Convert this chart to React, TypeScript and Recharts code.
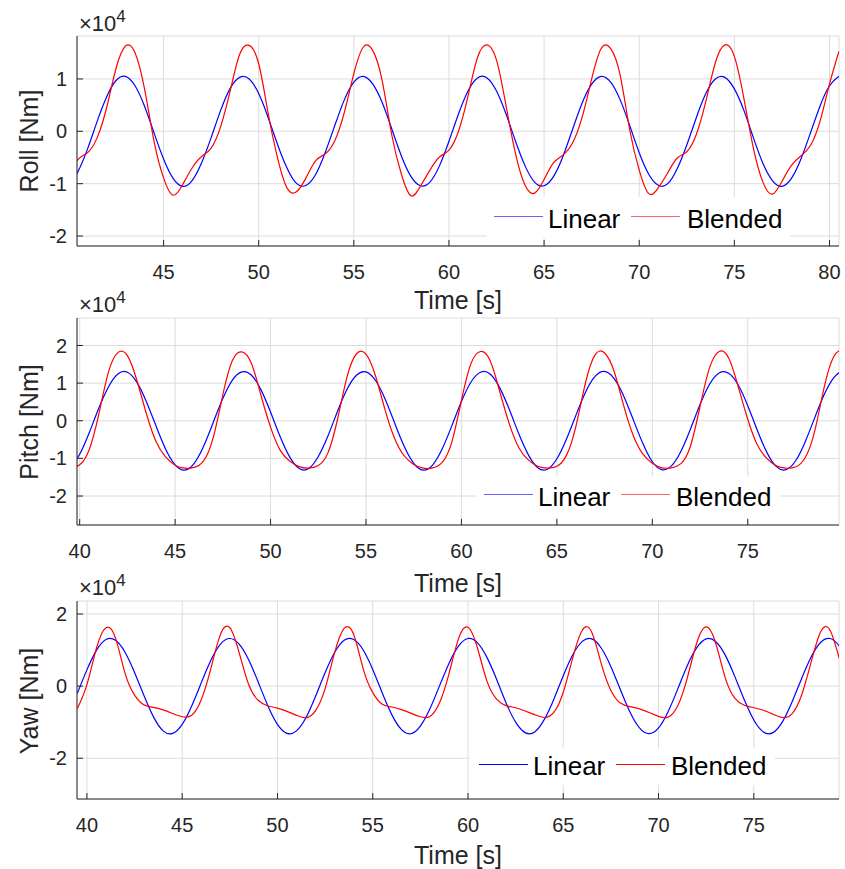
import React from 'react';
import { LineChart, Line, XAxis, YAxis, CartesianGrid } from 'recharts';

// time in seconds
const time = [39.5, 40, 40.5, 41, 41.5, 42, 42.5, 43, 43.5, 44, 44.5, 45, 45.5, 46, 46.5, 47, 47.5, 48, 48.5, 49, 49.5, 50, 50.5, 51, 51.5, 52, 52.5, 53, 53.5, 54, 54.5, 55, 55.5, 56, 56.5, 57, 57.5, 58, 58.5, 59, 59.5, 60, 60.5, 61, 61.5, 62, 62.5, 63, 63.5, 64, 64.5, 65, 65.5, 66, 66.5, 67, 67.5, 68, 68.5, 69, 69.5, 70, 70.5, 71, 71.5, 72, 72.5, 73, 73.5, 74, 74.5, 75, 75.5, 76, 76.5, 77, 77.5, 78, 78.5, 79, 79.5, 80, 80.5];

// moments in units of 1e4 Nm
const rollLinear = [
  -1.02, -1.02, -0.77, -0.34, 0.18, 0.65, 0.97, 1.05, 0.87, 0.48,
  -0.03, -0.53, -0.90, -1.05, -0.94, -0.60, -0.12, 0.40, 0.82, 1.03,
  1.00, 0.72, 0.26, -0.26, -0.71, -1.00, -1.03, -0.82, -0.40, 0.11,
  0.60, 0.94, 1.05, 0.90, 0.54, 0.04, -0.47, -0.86, -1.04, -0.97,
  -0.66, -0.19, 0.33, 0.77, 1.02, 1.02, 0.77, 0.33, -0.19, -0.66,
  -0.97, -1.04, -0.86, -0.47, 0.04, 0.54, 0.90, 1.05, 0.94, 0.60,
  0.11, -0.41, -0.82, -1.03, -1.00, -0.71, -0.26, 0.26, 0.72, 1.00,
  1.03, 0.81, 0.40, -0.12, -0.61, -0.94, -1.05, -0.90, -0.53, -0.03,
  0.48, 0.87, 1.05,
];
const rollBlended = [
  -1.12, -0.84, -0.54, -0.41, -0.13, 0.44, 1.20, 1.63, 1.50, 0.81,
  -0.19, -0.89, -1.22, -1.02, -0.70, -0.48, -0.32, 0.09, 0.77, 1.47,
  1.64, 1.29, 0.34, -0.52, -1.09, -1.15, -0.88, -0.56, -0.43, -0.18,
  0.36, 1.10, 1.61, 1.54, 0.95, -0.08, -0.82, -1.23, -1.05, -0.74,
  -0.49, -0.36, 0.00, 0.67, 1.41, 1.65, 1.36, 0.49, -0.43, -1.03,
  -1.18, -0.92, -0.60, -0.45, -0.22, 0.27, 1.00, 1.58, 1.58, 1.07,
  0.03, -0.74, -1.19, -1.08, -0.79, -0.51, -0.39, -0.06, 0.57, 1.31,
  1.65, 1.43, 0.63, -0.32, -0.97, -1.20, -0.96, -0.65, -0.47, -0.27,
  0.19, 0.90, 1.53,
];
const pitchLinear = [
  -1.24, -0.89, -0.32, 0.33, 0.89, 1.24, 1.29, 1.02, 0.50, -0.14,
  -0.75, -1.17, -1.31, -1.13, -0.67, -0.04, 0.59, 1.08, 1.30, 1.21,
  0.82, 0.23, -0.42, -0.96, -1.27, -1.27, -0.95, -0.41, 0.24, 0.83,
  1.21, 1.30, 1.07, 0.58, -0.06, -0.68, -1.13, -1.31, -1.17, -0.74,
  -0.13, 0.51, 1.03, 1.29, 1.24, 0.88, 0.31, -0.34, -0.90, -1.25,
  -1.29, -1.01, -0.49, 0.15, 0.76, 1.18, 1.31, 1.12, 0.66, 0.03,
  -0.60, -1.09, -1.30, -1.20, -0.81, -0.22, 0.43, 0.97, 1.27, 1.26,
  0.95, 0.40, -0.25, -0.84, -1.22, -1.30, -1.07, -0.57, 0.07, 0.69,
  1.14, 1.31, 1.16,
];
const pitchBlended = [
  -1.26, -1.17, -0.77, 0.17, 1.28, 1.81, 1.73, 1.07, 0.18, -0.55,
  -0.96, -1.18, -1.26, -1.24, -1.06, -0.44, 0.69, 1.60, 1.83, 1.52,
  0.67, -0.17, -0.78, -1.07, -1.22, -1.26, -1.19, -0.86, 0.02, 1.15,
  1.78, 1.77, 1.19, 0.29, -0.47, -0.93, -1.16, -1.26, -1.25, -1.10,
  -0.56, 0.54, 1.52, 1.84, 1.60, 0.79, -0.07, -0.71, -1.04, -1.21,
  -1.26, -1.21, -0.92, -0.14, 1.01, 1.75, 1.80, 1.31, 0.40, -0.39,
  -0.88, -1.13, -1.25, -1.25, -1.14, -0.67, 0.38, 1.41, 1.84, 1.67,
  0.91, 0.04, -0.64, -1.00, -1.20, -1.26, -1.23, -0.99, -0.29, 0.88,
  1.70, 1.82, 1.42,
];
const yawLinear = [
  -0.20, 0.45, 0.99, 1.29, 1.27, 0.94, 0.38, -0.27, -0.86, -1.24,
  -1.31, -1.06, -0.55, 0.09, 0.71, 1.16, 1.32, 1.16, 0.72, 0.10,
  -0.55, -1.06, -1.31, -1.24, -0.87, -0.28, 0.37, 0.93, 1.27, 1.29,
  1.00, 0.46, -0.19, -0.79, -1.20, -1.32, -1.11, -0.63, 0.00, 0.63,
  1.11, 1.32, 1.20, 0.79, 0.19, -0.47, -1.00, -1.29, -1.27, -0.93,
  -0.37, 0.29, 0.87, 1.24, 1.31, 1.05, 0.54, -0.10, -0.72, -1.16,
  -1.32, -1.16, -0.71, -0.09, 0.56, 1.06, 1.31, 1.23, 0.86, 0.27,
  -0.38, -0.94, -1.27, -1.29, -0.99, -0.45, 0.20, 0.80, 1.21, 1.32,
  1.10, 0.62, -0.01,
];
const yawBlended = [
  -0.62, 0.04, 1.05, 1.62, 1.33, 0.36, -0.25, -0.52, -0.59, -0.66,
  -0.76, -0.85, -0.81, -0.38, 0.48, 1.42, 1.62, 0.91, 0.03, -0.40,
  -0.55, -0.61, -0.70, -0.81, -0.88, -0.68, -0.07, 0.93, 1.60, 1.43,
  0.48, -0.18, -0.50, -0.58, -0.65, -0.75, -0.85, -0.84, -0.47, 0.34,
  1.31, 1.63, 1.05, 0.13, -0.36, -0.54, -0.60, -0.69, -0.79, -0.87,
  -0.73, -0.17, 0.79, 1.55, 1.49, 0.61, -0.12, -0.47, -0.57, -0.63,
  -0.73, -0.84, -0.86, -0.55, 0.21, 1.19, 1.64, 1.19, 0.23, -0.33,
  -0.53, -0.60, -0.67, -0.78, -0.87, -0.77, -0.26, 0.65, 1.50, 1.55,
  0.74, -0.05, -0.44,
];

const rollTicksX = [45, 50, 55, 60, 65, 70, 75, 80];
const rollTicksY = [-2, -1, 0, 1];
const pitchTicksX = [40, 45, 50, 55, 60, 65, 70, 75];
const pitchTicksY = [-2, -1, 0, 1, 2];
const yawTicksX = [40, 45, 50, 55, 60, 65, 70, 75];
const yawTicksY = [-2, 0, 2];

const FONT = '"Liberation Sans", Arial, Helvetica, sans-serif';
const AX = '#262626';
const GRID = '#dcdcdc';

type PanelProps = {
  top: number;
  height: number;
  marginTop: number;
  marginBottom: number;
  xDomain: [number, number];
  yDomain: [number, number];
  xTicks: number[];
  yTicks: number[];
  linear: number[];
  blended: number[];
};

function Panel(p: PanelProps) {
  const data = time.map((t, i) => ({ t, linear: p.linear[i], blended: p.blended[i] }));
  const tickStyle = { fill: AX, fontSize: 20, fontFamily: FONT };
  return (
    <div style={{ position: 'absolute', left: 0, top: p.top, width: 845, height: p.height }}>
      <LineChart
        width={845}
        height={p.height}
        data={data}
        margin={{ top: p.marginTop, right: 6, left: 17, bottom: p.marginBottom }}
      >
        <CartesianGrid stroke={GRID} strokeWidth={1} />
        <XAxis
          dataKey="t"
          type="number"
          domain={p.xDomain}
          ticks={p.xTicks}
          allowDataOverflow
          interval={0}
          height={40}
          tickSize={-6}
          tickMargin={25}
          axisLine={{ stroke: AX }}
          tickLine={{ stroke: AX }}
          tick={tickStyle}
        />
        <XAxis
          xAxisId="top"
          orientation="top"
          dataKey="t"
          type="number"
          domain={p.xDomain}
          ticks={p.xTicks}
          allowDataOverflow
          interval={0}
          height={0}
          tickSize={-6}
          tick={false}
          axisLine={{ stroke: AX }}
          tickLine={{ stroke: AX }}
        />
        <YAxis
          type="number"
          domain={p.yDomain}
          ticks={p.yTicks}
          allowDataOverflow
          interval={0}
          width={60}
          tickSize={-6}
          tickMargin={16}
          axisLine={{ stroke: AX }}
          tickLine={{ stroke: AX }}
          tick={tickStyle}
        />
        <YAxis
          yAxisId="right"
          orientation="right"
          type="number"
          domain={p.yDomain}
          ticks={p.yTicks}
          allowDataOverflow
          interval={0}
          width={0}
          tickSize={-6}
          tick={false}
          axisLine={{ stroke: AX }}
          tickLine={{ stroke: AX }}
        />
        <Line
          dataKey="linear"
          type="natural"
          stroke="#0000ff"
          strokeWidth={1.2}
          dot={false}
          isAnimationActive={false}
        />
        <Line
          dataKey="blended"
          type="natural"
          stroke="#ff0000"
          strokeWidth={1.2}
          dot={false}
          isAnimationActive={false}
        />
      </LineChart>
    </div>
  );
}

function Exponent({ left, baseline }: { left: number; baseline: number }) {
  return (
    <div
      style={{
        position: 'absolute',
        left,
        top: baseline - 19,
        fontSize: 22,
        lineHeight: '22px',
        color: AX,
        whiteSpace: 'nowrap',
      }}
    >
      ×10<span style={{ fontSize: 17, position: 'relative', top: -9 }}>4</span>
    </div>
  );
}

function YLabel({ text, cx, cy }: { text: string; cx: number; cy: number }) {
  return (
    <div
      style={{
        position: 'absolute',
        left: cx,
        top: cy,
        fontSize: 25,
        lineHeight: '25px',
        color: AX,
        whiteSpace: 'nowrap',
        transform: 'translate(-50%, -50%) rotate(-90deg)',
      }}
    >
      {text}
    </div>
  );
}

function XLabel({ cx, baseline }: { cx: number; baseline: number }) {
  return (
    <div
      style={{
        position: 'absolute',
        left: cx,
        top: baseline - 21,
        fontSize: 25,
        lineHeight: '25px',
        color: AX,
        whiteSpace: 'nowrap',
        transform: 'translateX(-50%)',
      }}
    >
      Time [s]
    </div>
  );
}

type LegendProps = {
  x: number;
  y: number;
  w: number;
  h: number;
  lineY: number;
  blueX: number;
  redX: number;
  linX: number;
  blendX: number;
  baseline: number;
  blue: string;
  red: string;
};

function LegendBox(l: LegendProps) {
  const txt = (left: number, s: string) => (
    <div
      style={{
        position: 'absolute',
        left: left - l.x,
        top: l.baseline - 22 - l.y,
        fontSize: 26,
        lineHeight: '26px',
        color: '#000',
        whiteSpace: 'nowrap',
      }}
    >
      {s}
    </div>
  );
  const seg = (left: number, color: string) => (
    <div
      style={{
        position: 'absolute',
        left: left - l.x,
        top: l.lineY - l.y - 0.6,
        width: 49,
        height: 0,
        borderTop: `1.3px solid ${color}`,
      }}
    />
  );
  return (
    <div style={{ position: 'absolute', left: l.x, top: l.y, width: l.w, height: l.h, background: '#fff' }}>
      {seg(l.blueX, l.blue)}
      {txt(l.linX, 'Linear')}
      {seg(l.redX, l.red)}
      {txt(l.blendX, 'Blended')}
    </div>
  );
}

export default function App() {
  return (
    <div
      style={{
        position: 'absolute',
        left: 0,
        top: 0,
        width: 845,
        height: 869,
        background: '#fff',
        fontFamily: FONT,
        overflow: 'hidden',
      }}
    >
      <Panel
        top={0}
        height={300}
        marginTop={36}
        marginBottom={14}
        xDomain={[40.45, 80.5]}
        yDomain={[-2.19, 1.82]}
        xTicks={rollTicksX}
        yTicks={rollTicksY}
        linear={rollLinear}
        blended={rollBlended}
      />
      <Panel
        top={280}
        height={300}
        marginTop={38}
        marginBottom={15}
        xDomain={[39.86, 79.78]}
        yDomain={[-2.77, 2.73]}
        xTicks={pitchTicksX}
        yTicks={pitchTicksY}
        linear={pitchLinear}
        blended={pitchBlended}
      />
      <Panel
        top={562}
        height={300}
        marginTop={39}
        marginBottom={23}
        xDomain={[39.48, 79.47]}
        yDomain={[-3.13, 2.36]}
        xTicks={yawTicksX}
        yTicks={yawTicksY}
        linear={yawLinear}
        blended={yawBlended}
      />

      <Exponent left={79} baseline={32} />
      <Exponent left={79} baseline={313} />
      <Exponent left={79} baseline={596} />

      <YLabel text="Roll [Nm]" cx={29} cy={141} />
      <YLabel text="Pitch [Nm]" cx={29} cy={422} />
      <YLabel text="Yaw [Nm]" cx={29} cy={701} />

      <XLabel cx={458} baseline={309} />
      <XLabel cx={458} baseline={592} />
      <XLabel cx={458} baseline={864} />

      <LegendBox x={487} y={197} w={303} h={41} lineY={217} blueX={494} redX={631} linX={548} blendX={687} baseline={228} blue="#6464ff" red="#ff6464" />
      <LegendBox x={477} y={476} w={303} h={41} lineY={495} blueX={484} redX={621} linX={538} blendX={676} baseline={506} blue="#6464ff" red="#ff6464" />
      <LegendBox x={470} y={748} w={305} h={37} lineY={765} blueX={479} redX={616} linX={533} blendX={671} baseline={775} blue="#0000ff" red="#ff0000" />
    </div>
  );
}
